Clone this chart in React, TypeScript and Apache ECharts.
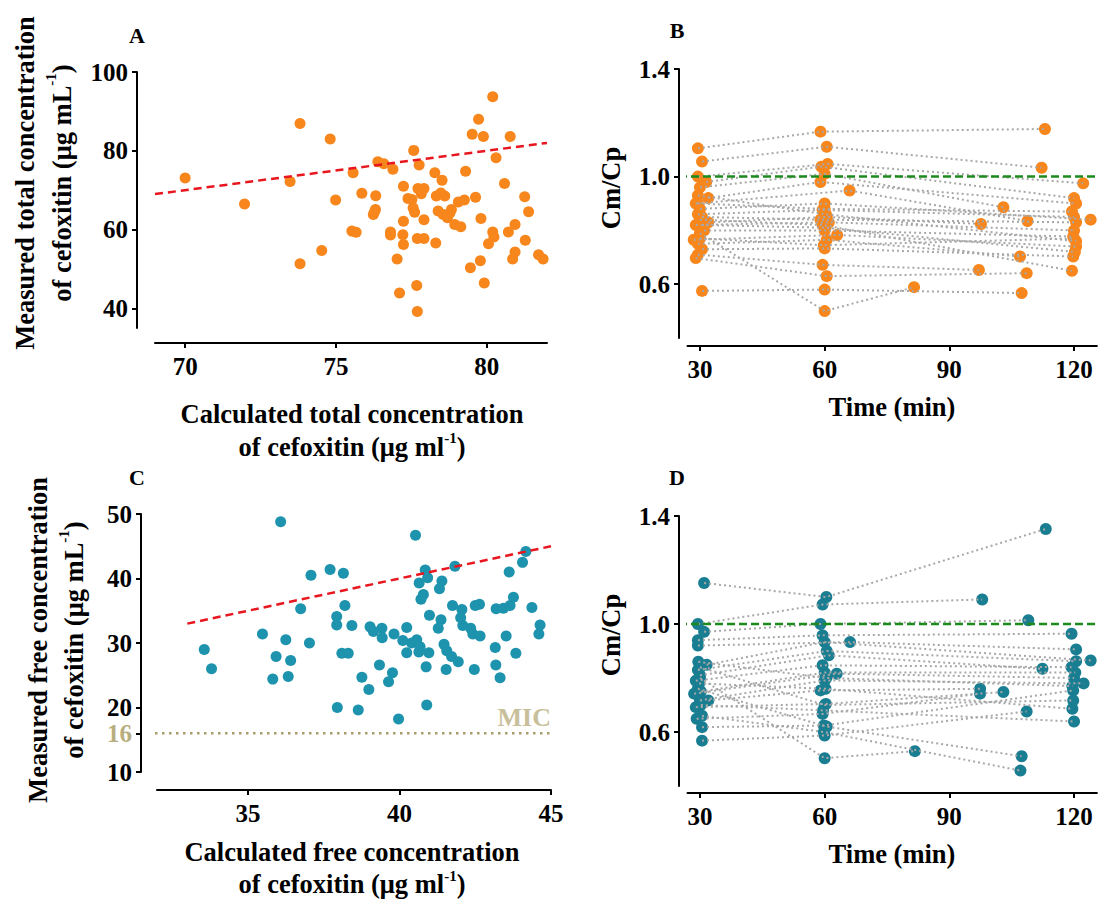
import React, { useEffect, useRef } from "react";
import * as echarts from "echarts";

// ---------- Panel A: total concentration (calculated vs measured) ----------
const A_CALC = [70.0, 71.97, 73.81, 73.48, 74.81, 73.81, 74.53, 74.99, 75.57, 75.53, 75.67, 75.86, 76.32, 76.24, 76.31, 76.28, 76.39, 76.59, 76.89, 76.81, 76.81, 77.03, 77.11, 77.24, 77.24, 77.22, 77.24, 77.39, 77.52, 77.58, 77.56, 77.61, 77.76, 77.68, 77.7, 77.72, 77.92, 77.83, 77.92, 77.7, 77.92, 78.28, 78.52, 78.33, 78.61, 78.48, 78.31, 78.39, 78.56, 78.7, 78.83, 78.78, 78.94, 79.14, 79.06, 79.26, 79.3, 79.52, 79.73, 79.89, 79.63, 79.81, 79.46, 79.79, 79.92, 80.31, 80.59, 80.2, 80.24, 80.06, 80.72, 80.94, 80.78, 81.26, 81.39, 81.28, 80.94, 80.86, 81.72, 81.87, 80.2];
const A_MEAS = [73.1, 66.5, 86.9, 72.2, 83.0, 51.3, 54.7, 67.5, 74.4, 59.6, 59.3, 69.2, 68.6, 63.8, 65.1, 64.5, 77.2, 76.7, 75.3, 59.4, 58.6, 52.5, 43.9, 71.0, 62.1, 58.7, 56.2, 67.9, 67.6, 80.1, 65.5, 64.4, 76.4, 45.8, 39.2, 70.4, 70.4, 69.1, 62.5, 57.7, 57.7, 74.4, 72.5, 68.5, 68.5, 69.3, 56.6, 64.7, 63.8, 63.0, 65.1, 64.2, 61.3, 60.7, 67.0, 67.5, 74.8, 84.2, 88.0, 83.6, 68.2, 62.8, 50.3, 52.1, 46.4, 78.2, 71.7, 59.4, 58.1, 56.4, 59.4, 61.3, 83.6, 68.3, 64.5, 57.3, 54.3, 52.5, 53.6, 52.5, 93.7];

// ---------- Panel C: free concentration (calculated vs measured) ----------
const C_CALC = [33.56, 33.8, 36.08, 35.48, 36.25, 35.93, 35.82, 36.33, 36.41, 37.03, 36.74, 37.08, 37.71, 38.15, 38.2, 37.93, 37.93, 38.43, 38.1, 38.31, 37.95, 38.64, 38.76, 38.99, 39.34, 39.03, 39.42, 39.14, 39.43, 39.64, 39.77, 39.97, 39.82, 40.11, 40.24, 40.24, 40.4, 40.57, 40.68, 40.64, 40.53, 40.85, 40.93, 40.65, 40.79, 40.71, 40.99, 40.97, 40.88, 40.9, 41.4, 41.32, 41.37, 41.28, 41.47, 41.56, 41.72, 41.94, 41.54, 41.83, 41.75, 42.06, 42.02, 42.09, 42.35, 42.42, 42.66, 42.47, 42.5, 42.64, 43.19, 43.43, 43.65, 43.76, 43.62, 44.06, 44.17, 43.16, 43.52, 43.18, 43.32, 43.84, 44.37, 44.64, 44.6];
const C_MEAS = [29.0, 26.0, 48.8, 31.4, 30.5, 27.9, 24.4, 24.8, 27.3, 30.0, 35.3, 40.5, 41.4, 40.8, 35.8, 34.1, 32.8, 32.7, 28.4, 28.4, 20.0, 19.6, 24.7, 22.8, 26.6, 32.5, 32.3, 31.8, 30.8, 24.0, 25.4, 18.2, 31.4, 30.4, 32.4, 28.5, 30.0, 30.5, 29.4, 28.6, 46.7, 41.3, 40.1, 39.3, 37.5, 36.8, 34.3, 28.5, 26.3, 20.4, 39.6, 38.4, 33.6, 32.3, 29.8, 28.8, 27.9, 27.1, 25.9, 41.9, 35.8, 35.2, 33.9, 32.7, 32.3, 31.4, 31.1, 25.9, 35.8, 36.0, 35.3, 35.4, 35.8, 37.1, 41.0, 42.5, 44.2, 29.3, 31.1, 26.6, 24.6, 28.4, 35.5, 32.8, 31.4];

// ---------- Panel B: Cm/Cp over time (total), one entry per patient ----------
const B_T1 = [29.5, 30.5, 29.5, 31.5, 30, 32, 29, 30, 29.5, 32, 30.5, 29, 31, 28.5, 29.5, 30.5, 29.5, 29, 30.5, 30, 30, 29.5, 30, 29.5, 30.5];
const B_R1 = [1.105, 1.056, 1.0, 0.98, 0.96, 0.92, 0.9, 0.88, 0.86, 0.83, 0.85, 0.82, 0.8, 0.765, 0.75, 0.73, 0.71, 0.697, 0.575, 0.79, 0.84, 0.93, 0.77, 0.9, 0.82];
const B_T2 = [59, 60.5, 60.7, 59.2, 60, 59, 66, 60, 59.5, 60.5, 59, 61, 60, 63, 60.5, 60, 59.5, 60.5, 60, 60, 59.5, 60.3, 59.8, 60, 60.2];
const B_R2 = [1.167, 1.111, 1.047, 1.037, 1.01, 0.98, 0.948, 0.9, 0.876, 0.85, 0.84, 0.83, 0.8, 0.783, 0.765, 0.733, 0.672, 0.63, 0.58, 0.5, 0.82, 0.86, 0.745, 0.88, 0.81];
const B_T3 = [113, 112.2, 122.2, 120, 103, 120.5, 108.8, 124, 120, 97.6, 120.5, 120, 119.8, 120.5, 107, 119.8, 97.1, 108.6, 107.4, 81.5, 119.5, 120.5, 120, 119.5, 120.2];
const B_R3 = [1.177, 1.033, 0.975, 0.92, 0.886, 0.9, 0.835, 0.84, 0.85, 0.824, 0.83, 0.8, 0.777, 0.74, 0.703, 0.703, 0.653, 0.641, 0.567, 0.589, 0.65, 0.76, 0.77, 0.87, 0.72];

// ---------- Panel D: Cm/Cp over time (free), one entry per patient ----------
const D_T1 = [31, 29.5, 31, 29.5, 29.5, 31.6, 29.5, 30, 29, 28.6, 30, 32, 29, 29.2, 30.5, 30.5, 30, 29.5, 30.5, 30, 29.8, 30.2, 30.2, 29.6];
const D_R1 = [1.152, 1.0, 0.971, 0.94, 0.92, 0.849, 0.83, 0.81, 0.79, 0.742, 0.717, 0.717, 0.692, 0.649, 0.618, 0.568, 0.8, 0.76, 0.66, 0.84, 0.78, 0.7, 0.75, 0.86];
const D_T2 = [60.4, 59.5, 59, 59.5, 66.1, 60, 60.5, 61, 59.5, 62.9, 60, 59, 60.3, 59.5, 59.8, 60, 60, 60.5, 59.8, 60, 60.2, 59.6, 60, 60.4];
const D_R2 = [1.1, 1.072, 1.0, 0.958, 0.933, 0.933, 0.9, 0.884, 0.847, 0.816, 0.791, 0.754, 0.704, 0.667, 0.624, 0.587, 0.503, 0.62, 0.6, 0.7, 0.76, 0.68, 0.82, 0.8];
const D_T3 = [113.2, 97.9, 109, 119.4, 120.5, 124, 120.5, 112.4, 119.4, 120, 122.3, 97.4, 103, 97.4, 119.8, 108.6, 81.7, 107.4, 107.1, 119.8, 119.6, 120, 120.3, 119.6];
const D_R3 = [1.352, 1.091, 1.014, 0.964, 0.906, 0.865, 0.862, 0.834, 0.84, 0.8, 0.78, 0.76, 0.748, 0.742, 0.754, 0.676, 0.529, 0.51, 0.457, 0.717, 0.686, 0.639, 0.82, 0.77];

// ---------- ticks & reference values ----------
const A_X_TICKS = [70, 75, 80];
const A_Y_TICKS = [40, 60, 80, 100];
const C_X_TICKS = [35, 40, 45];
const C_Y_TICKS = [10, 16, 20, 30, 40, 50];
const T_TICKS = [30, 60, 90, 120];
const R_TICKS = [0.6, 1.0, 1.4];
const A_IDENTITY = [69, 82];
const C_IDENTITY = [33, 45];
const MIC = 16;
const UNITY = 1.0;

const FONT = "'Liberation Serif', 'Times New Roman', Times, serif";
const ORANGE = "#F7861C";
const TEAL_C = "#1E93AD";
const TEAL_D = "#1A7E92";
const KHAKI = "#B9AE80";
const GRAY = "#A8A8A8";

// layout: grid rect, axis ranges, axis offsets
const LAYOUT = [
  { left: 155, top: 72, width: 392, height: 256, xMin: 69, xMax: 82, yMin: 35, yMax: 100, yOff: 18, xOff: 15 },
  { left: 687.5, top: 69, width: 409.4, height: 269, xMin: 27, xMax: 125.5, yMin: 0.4, yMax: 1.4, yOff: 8.5, xOff: 8 },
  { left: 157, top: 514, width: 394, height: 258, xMin: 32, xMax: 45, yMin: 10, yMax: 50, yOff: 16, xOff: 18 },
  { left: 687.5, top: 516, width: 409.4, height: 270, xMin: 27, xMax: 125.5, yMin: 0.4, yMax: 1.4, yOff: 8.5, xOff: 7 },
];

const xAtYAxis = (i: number) => {
  const L = LAYOUT[i];
  return L.xMin - (L.yOff * (L.xMax - L.xMin)) / L.width;
};

const axisLineStyle = { show: true, lineStyle: { color: "#000", width: 2 } };
const tickStyle = (vals: number[]) => ({ show: true, length: 5, customValues: vals, lineStyle: { color: "#000", width: 2 } });
const labelStyle = (vals: number[], margin: number, extra: any = {}) => ({
  customValues: vals,
  margin,
  fontFamily: FONT,
  fontWeight: "bold",
  fontSize: 25,
  color: "#000",
  ...extra,
});

function buildOption() {
  const xTicks = [A_X_TICKS, T_TICKS, C_X_TICKS, T_TICKS];
  const yTicks = [A_Y_TICKS, R_TICKS, C_Y_TICKS, R_TICKS];

  const grid = LAYOUT.map((L) => ({
    left: L.left,
    top: L.top,
    width: L.width,
    height: L.height,
    containLabel: false,
    outerBoundsMode: "none",
  }));

  const xAxis = LAYOUT.map((L, i) => ({
    type: "value",
    gridIndex: i,
    min: L.xMin,
    max: L.xMax,
    offset: L.xOff,
    axisLine: axisLineStyle,
    axisTick: tickStyle(xTicks[i]),
    axisLabel: labelStyle(xTicks[i], 11),
    splitLine: { show: false },
  }));

  const yAxis = LAYOUT.map((L, i) => ({
    type: "value",
    gridIndex: i,
    min: L.yMin,
    max: L.yMax,
    offset: L.yOff,
    axisLine: axisLineStyle,
    axisTick: tickStyle(yTicks[i]),
    axisLabel: labelStyle(
      yTicks[i],
      9,
      i === 1 || i === 3
        ? { formatter: (v: number) => Number(v).toFixed(1) }
        : i === 2
        ? { color: (v: any) => (Number(v) === MIC ? KHAKI : "#000") }
        : {}
    ),
    splitLine: { show: false },
  }));

  const series: any[] = [];

  // Panel A
  series.push({
    type: "scatter",
    xAxisIndex: 0,
    yAxisIndex: 0,
    data: A_CALC.map((x, i) => [x, A_MEAS[i]]),
    symbolSize: 11,
    itemStyle: { color: ORANGE, opacity: 1 },
    z: 4,
  });
  series.push({
    type: "line",
    xAxisIndex: 0,
    yAxisIndex: 0,
    data: A_IDENTITY.map((v) => [v, v]),
    symbol: "none",
    lineStyle: { color: "#E8161E", width: 2.5, type: [8, 5] },
    z: 5,
    silent: true,
  });

  // Panel C
  series.push({
    type: "line",
    xAxisIndex: 2,
    yAxisIndex: 2,
    data: [
      [xAtYAxis(2), MIC],
      [LAYOUT[2].xMax, MIC],
    ],
    clip: false,
    symbol: "none",
    lineStyle: { color: "#A89D6A", width: 2.5, type: [2.5, 4.5] },
    z: 2,
    silent: true,
  });
  series.push({
    type: "scatter",
    xAxisIndex: 2,
    yAxisIndex: 2,
    data: [[LAYOUT[2].xMax, MIC]],
    symbolSize: 1,
    itemStyle: { color: "rgba(0,0,0,0)" },
    label: {
      show: true,
      formatter: "MIC",
      position: "top",
      align: "right",
      distance: 2,
      color: KHAKI,
      fontFamily: FONT,
      fontWeight: "bold",
      fontSize: 26,
    },
    silent: true,
    z: 2,
  });
  series.push({
    type: "scatter",
    xAxisIndex: 2,
    yAxisIndex: 2,
    data: C_CALC.map((x, i) => [x, C_MEAS[i]]),
    symbolSize: 11,
    itemStyle: { color: TEAL_C, opacity: 1 },
    z: 4,
  });
  series.push({
    type: "line",
    xAxisIndex: 2,
    yAxisIndex: 2,
    data: C_IDENTITY.map((v) => [v, v]),
    symbol: "none",
    lineStyle: { color: "#E8161E", width: 2.5, type: [8, 5] },
    z: 5,
    silent: true,
  });

  // Panels B and D: patient trajectories
  const addTime = (idx: number, T1: number[], R1: number[], T2: number[], R2: number[], T3: number[], R3: number[], color: string) => {
    const pts: number[][] = [];
    T1.forEach((_, i) => {
      const d = [
        [T1[i], R1[i]],
        [T2[i], R2[i]],
        [T3[i], R3[i]],
      ];
      pts.push(...d);
      series.push({
        type: "line",
        xAxisIndex: idx,
        yAxisIndex: idx,
        data: d,
        symbol: "none",
        lineStyle: { color: GRAY, width: 2, type: [2, 3] },
        z: 5,
        silent: true,
      });
    });
    series.push({
      type: "scatter",
      xAxisIndex: idx,
      yAxisIndex: idx,
      data: pts,
      symbolSize: 12,
      itemStyle: { color, opacity: 1 },
      z: 4,
    });
    series.push({
      type: "line",
      xAxisIndex: idx,
      yAxisIndex: idx,
      data: [
        [xAtYAxis(idx), UNITY],
        [LAYOUT[idx].xMax, UNITY],
      ],
      clip: false,
      symbol: "none",
      lineStyle: { color: "#1C8A1C", width: 2.5, type: [8, 4] },
      z: 6,
      silent: true,
    });
  };
  addTime(1, B_T1, B_R1, B_T2, B_R2, B_T3, B_R3, ORANGE);
  addTime(3, D_T1, D_R1, D_T2, D_R2, D_T3, D_R3, TEAL_D);

  const txt = (x: number, y: number, text: string, opts: any = {}) => ({
    type: "text",
    x,
    y,
    rotation: opts.rotate ? Math.PI / 2 : 0,
    silent: true,
    style: {
      text,
      fontFamily: FONT,
      fontWeight: "bold",
      fontSize: opts.fontSize || 26.5,
      lineHeight: opts.lineHeight || 34,
      fill: "#000",
      align: "center",
      verticalAlign: "middle",
      rich: {
        sup: { fontSize: 15, fontFamily: FONT, fontWeight: "bold", verticalAlign: "top", lineHeight: 15, fill: "#000" },
      },
    },
  });

  const graphic = [
    txt(137, 35, "A", { fontSize: 22, lineHeight: 22 }),
    txt(677, 30, "B", { fontSize: 22, lineHeight: 22 }),
    txt(137, 477, "C", { fontSize: 22, lineHeight: 22 }),
    txt(677, 477, "D", { fontSize: 22, lineHeight: 22 }),
    txt(43, 183, "Measured total concentration\nof cefoxitin (μg mL{sup|-1})", { rotate: true, lineHeight: 37 }),
    txt(56, 640, "Measured free concentration\nof cefoxitin (μg mL{sup|-1})", { rotate: true, lineHeight: 36 }),
    txt(352, 430, "Calculated total concentration\nof cefoxitin (μg ml{sup|-1})", { lineHeight: 33 }),
    txt(352, 868, "Calculated free concentration\nof cefoxitin (μg ml{sup|-1})", { lineHeight: 32 }),
    txt(611, 188, "Cm/Cp", { rotate: true }),
    txt(611, 635, "Cm/Cp", { rotate: true }),
    txt(892, 407, "Time (min)", {}),
    txt(892, 854, "Time (min)", {}),
  ];

  return {
    animation: false,
    backgroundColor: "#fff",
    grid,
    xAxis,
    yAxis,
    series,
    graphic,
  };
}

export default function App() {
  const ref = useRef<HTMLDivElement>(null);
  useEffect(() => {
    if (!ref.current) return;
    const chart = echarts.init(ref.current, undefined, { renderer: "svg" });
    chart.setOption(buildOption() as any);
    return () => chart.dispose();
  }, []);
  return (
    <div
      ref={ref}
      style={{ position: "absolute", left: 0, top: 0, width: 1100, height: 912, background: "#fff" }}
    />
  );
}
